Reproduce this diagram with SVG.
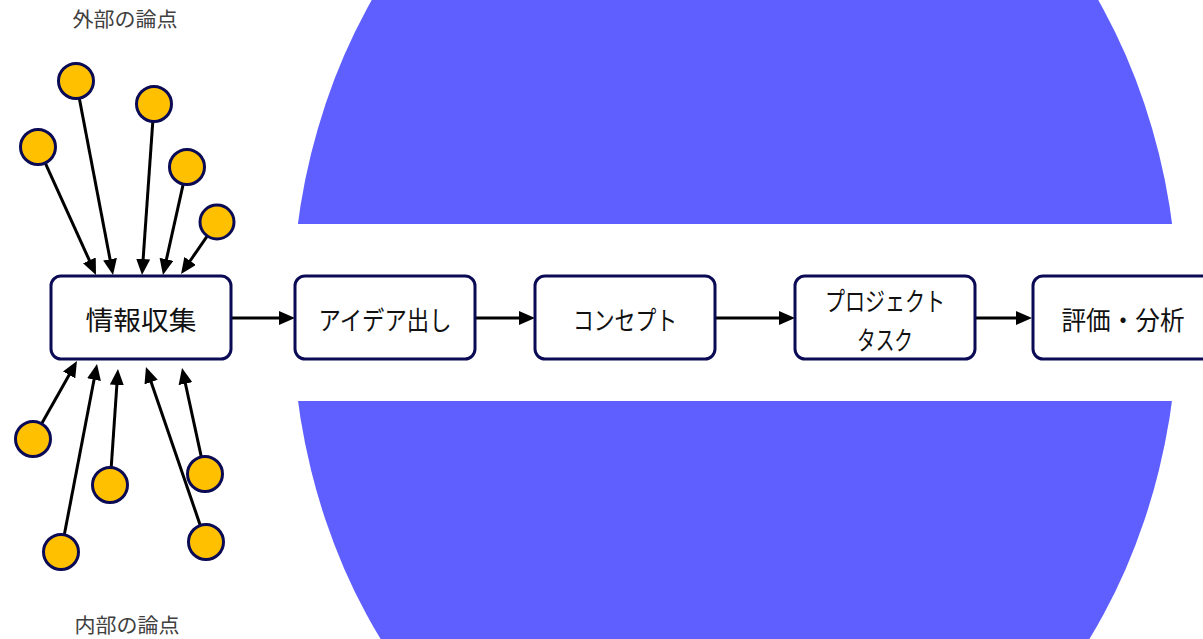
<svg xmlns="http://www.w3.org/2000/svg" width="1203" height="639" viewBox="0 0 1203 639">
<style>
.box{fill:#fff;stroke:#0b0b55;stroke-width:3}
.pt{fill:#FFC000;stroke:#0b0b55;stroke-width:3}
.lbl{font-family:"Noto Sans CJK JP","Noto Sans",sans-serif;font-size:26px;fill:#111;text-anchor:middle;dominant-baseline:central}
.cap{font-family:"Noto Sans CJK JP","Noto Sans",sans-serif;font-size:20px;fill:#404040;text-anchor:middle;dominant-baseline:central}
.con{stroke:#000;stroke-width:3;fill:none;marker-end:url(#ah)}
</style>
<defs>
<marker id="ah" markerUnits="userSpaceOnUse" markerWidth="16" markerHeight="14" refX="2" refY="7" orient="auto">
<path d="M0,0 L16,7 L0,14 z" fill="#000"/>
</marker>
</defs>
<rect width="1203" height="639" fill="#fff"/>
<g id="background">
<ellipse cx="735" cy="312" rx="443" ry="545" fill="#5F5FFF"/>
<rect x="0" y="224" width="1203" height="177" fill="#fff"/>
</g>
<g id="captions">
<text class="cap" x="125" y="18" textLength="105" lengthAdjust="spacingAndGlyphs">外部の論点</text>
<text class="cap" x="127" y="624" textLength="105" lengthAdjust="spacingAndGlyphs">内部の論点</text>
</g>
<g id="connectors">
<line class="con" x1="79.3" y1="98.2" x2="110.4" y2="261.2"/>
<line class="con" x1="45.2" y1="162.9" x2="90.2" y2="262.2"/>
<line class="con" x1="152.8" y1="121.5" x2="143.0" y2="261.0"/>
<line class="con" x1="183.2" y1="184.1" x2="166.0" y2="261.3"/>
<line class="con" x1="207.0" y1="236.4" x2="189.0" y2="262.5"/>
<line class="con" x1="41.6" y1="423.8" x2="70.1" y2="373.2"/>
<line class="con" x1="64.3" y1="534.8" x2="94.4" y2="377.7"/>
<line class="con" x1="111.2" y1="467.5" x2="117.0" y2="383.0"/>
<line class="con" x1="200.3" y1="525.4" x2="150.5" y2="380.2"/>
<line class="con" x1="201.3" y1="456.9" x2="185.0" y2="381.7"/>
<line class="con" x1="232" y1="318" x2="281" y2="318"/>
<line class="con" x1="476" y1="318" x2="521" y2="318"/>
<line class="con" x1="716" y1="318" x2="781" y2="318"/>
<line class="con" x1="976" y1="318" x2="1018" y2="318"/>
</g>
<g id="points-external">
<circle class="pt" cx="76" cy="81" r="17.5"/>
<circle class="pt" cx="38" cy="147" r="17.5"/>
<circle class="pt" cx="154" cy="104" r="17.5"/>
<circle class="pt" cx="187" cy="167" r="17.5"/>
<circle class="pt" cx="217" cy="222" r="17"/>
</g>
<g id="points-internal">
<circle class="pt" cx="33" cy="439" r="17.5"/>
<circle class="pt" cx="61" cy="552" r="17.5"/>
<circle class="pt" cx="110" cy="485" r="17.5"/>
<circle class="pt" cx="206" cy="542" r="17.5"/>
<circle class="pt" cx="205" cy="474" r="17.5"/>
</g>
<g id="node-info">
<rect class="box" x="51" y="276" width="180" height="83" rx="10"/>
<text class="lbl" x="141" y="318" textLength="111" lengthAdjust="spacingAndGlyphs">情報収集</text>
</g>
<g id="node-idea">
<rect class="box" x="295" y="276" width="180" height="83" rx="10"/>
<text class="lbl" x="385" y="318" textLength="133" lengthAdjust="spacingAndGlyphs">アイデア出し</text>
</g>
<g id="node-concept">
<rect class="box" x="535" y="276" width="180" height="83" rx="10"/>
<text class="lbl" x="625" y="318" textLength="104" lengthAdjust="spacingAndGlyphs">コンセプト</text>
</g>
<g id="node-project">
<rect class="box" x="795" y="276" width="180" height="83" rx="10"/>
<text class="lbl" x="885" y="299" textLength="120" lengthAdjust="spacingAndGlyphs">プロジェクト</text>
<text class="lbl" x="885" y="338" textLength="56" lengthAdjust="spacingAndGlyphs">タスク</text>
</g>
<g id="node-eval">
<rect class="box" x="1033" y="276" width="180" height="83" rx="10"/>
<text class="lbl" x="1123" y="318" textLength="123" lengthAdjust="spacingAndGlyphs">評価・分析</text>
</g>
</svg>
